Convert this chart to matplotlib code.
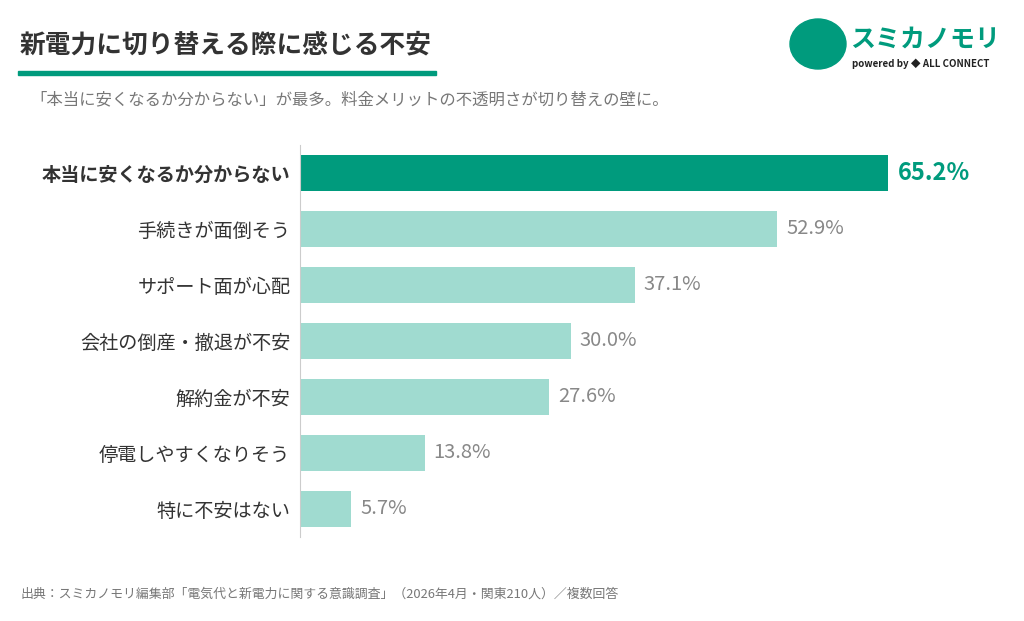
import matplotlib.pyplot as plt
from matplotlib.patches import Rectangle, Ellipse

plt.rcParams['font.family'] = ['Noto Sans CJK JP', 'DejaVu Sans']

labels = ["本当に安くなるか分からない", "手続きが面倒そう", "サポート面が心配",
          "会社の倒産・撤退が不安", "解約金が不安", "停電しやすくなりそう", "特に不安はない"]
values = [65.2, 52.9, 37.1, 30.0, 27.6, 13.8, 5.7]
dark = "#009b7d"
light = "#a0dbd0"

fig = plt.figure(figsize=(10.24, 6.21), dpi=100)
ax = fig.add_axes([300/1024, 1-537/621, 722/1024, 392/621])
y = list(range(len(values)))
colors = [dark] + [light]*(len(values)-1)
ax.barh(y, values, height=0.63, color=colors)
ax.set_ylim(6.5, -0.5)
ax.set_xlim(0, 80)
ax.set_xticks([])
ax.set_yticks(y)
ax.set_yticklabels(labels, fontsize=13.8, color="#333333")
ax.get_yticklabels()[0].set_fontweight("bold")
ax.tick_params(axis="y", length=0, pad=7)
for s in ["top", "right", "bottom"]:
    ax.spines[s].set_visible(False)
ax.spines["left"].set_color("#cccccc")
for i, v in enumerate(values):
    if i == 0:
        ax.text(v + 1, i, f"{v:.1f}%", va="center", fontsize=17, fontweight="bold", color=dark)
    else:
        ax.text(v + 1, i, f"{v:.1f}%", va="center", fontsize=14.5, color="#888888")

fig.text(20/1024, 1-45/621, "新電力に切り替える際に感じる不安", fontsize=18.5, fontweight="bold",
         color="#333333", va="center")
fig.patches.append(Rectangle((18/1024, 1-75/621), 418/1024, 4/621, transform=fig.transFigure,
                             color=dark))
fig.text(30/1024, 1-100/621, "「本当に安くなるか分からない」が最多。料金メリットの不透明さが切り替えの壁に。",
         fontsize=11.8, color="#777777", va="center")
fig.text(20/1024, 1-594/621, "出典：スミカノモリ編集部「電気代と新電力に関する意識調査」（2026年4月・関東210人）／複数回答",
         fontsize=9.3, color="#777777", va="center")
# logo as text
fig.text(850/1024, 1-40/621, "スミカノモリ", fontsize=18, fontweight="bold", color=dark, va="center")
fig.text(852/1024, 1-64/621, "powered by ◆ ALL CONNECT", fontsize=7, fontweight="bold",
         color="#222222", va="center")
fig.patches.append(Ellipse((818/1024, 1-44/621), 56/1024, 50/621, transform=fig.transFigure, color=dark))

fig.savefig("out.png", dpi=100)
